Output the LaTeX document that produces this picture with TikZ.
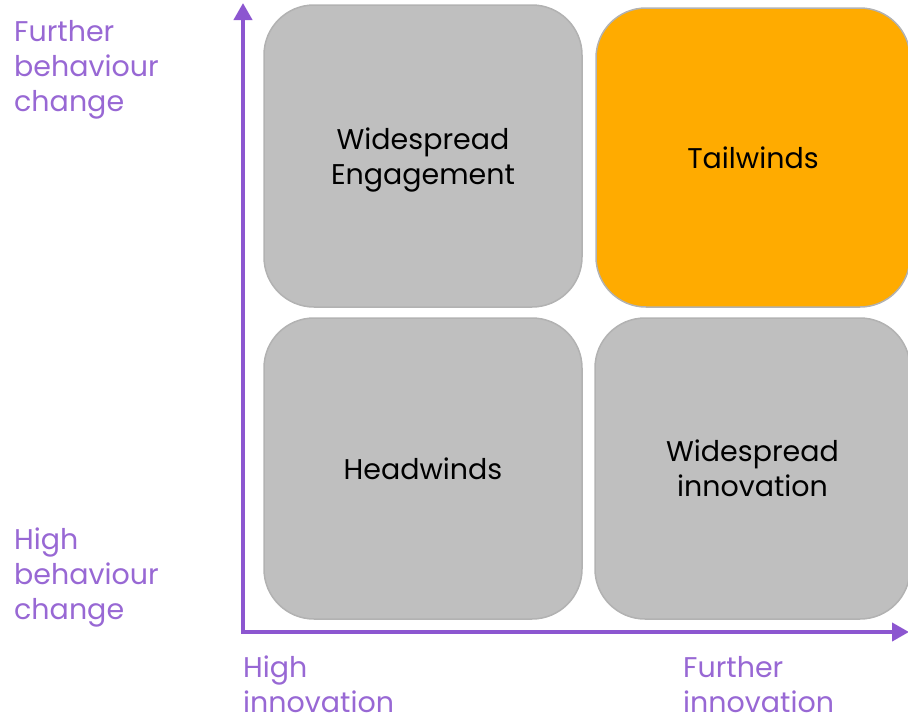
\documentclass[tikz,border=0pt]{standalone}
\usepackage{fontspec}
\setmainfont{Poppins}
\usetikzlibrary{arrows.meta,positioning}
\definecolor{axis-pu}{RGB}{140, 86, 208}
\definecolor{label-pu}{RGB}{152, 104, 212}
\definecolor{quad-gr}{RGB}{191, 191, 191}
\definecolor{quad-bd}{RGB}{178, 178, 178}
\definecolor{quad-or}{RGB}{255, 171, 0}
\tikzstyle{quad}=[draw=quad-bd,line width=1.5pt,fill=quad-gr,rounded corners=50pt,anchor=center,align=center,font=\fontsize{28.5}{35}\selectfont,text=black]
\tikzstyle{tall}=[quad,minimum width=318pt,minimum height=302pt]
\tikzstyle{hot}=[fill=quad-or]
\tikzstyle{axislabel}=[anchor=north west,align=left,inner sep=0pt,text=label-pu,font=\fontsize{28.5}{35}\selectfont]
\tikzstyle{axisline}=[draw=axis-pu,line width=4pt,{Triangle[length=17pt,width=18pt]}-{Triangle[length=17pt,width=18pt]}]

\begin{document}
\begin{tikzpicture}[x=1pt,y=-1pt]
  \useasboundingbox (0,0) rectangle (908,720);

  % quadrants
  \node[tall,text depth=-5pt] at (423,156) (engage) {Widespread\\Engagement};
  \node[tall,hot,minimum width=314pt,minimum height=299pt] at (753,157.5) (tail) {Tailwinds};
  \node[tall,minimum height=301pt] at (423,468.5) (head) {Headwinds};
  \node[tall,minimum width=315pt,minimum height=301pt] at (752.5,468.5) (innov) {Widespread\\innovation};

  % axes
  \coordinate (top) at (243,3);
  \coordinate (origin) at (243,632);
  \coordinate (right) at (909,632);
  \draw[axisline] (top) -- (origin) -- (right);

  % axis labels
  \node[axislabel] at (14,20) (ytop) {Further\\behaviour\\change};
  \node[axislabel] at (14,528) (ybot) {High\\behaviour\\change};
  \node[axislabel] at (243,656) (xleft) {High\\innovation};
  \node[axislabel] at (683,656) (xright) {Further\\innovation};

\end{tikzpicture}
\end{document}
